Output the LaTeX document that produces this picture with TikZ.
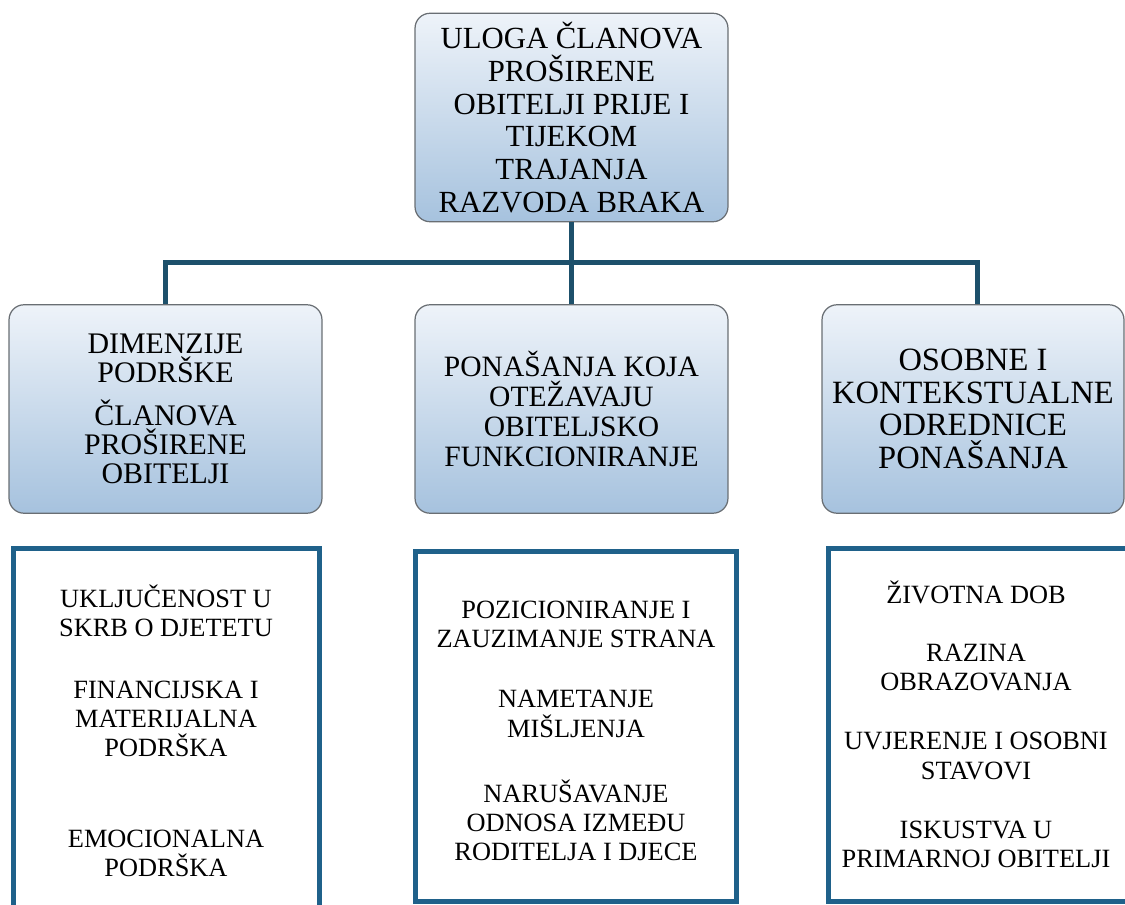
\documentclass[tikz,border=0pt]{standalone}
\usepackage{fontspec}
\setmainfont{Liberation Serif}
\usetikzlibrary{positioning}

\definecolor{linkblue}{RGB}{29,80,107}
\definecolor{listblue}{RGB}{31,97,138}
\definecolor{boxtop}{RGB}{238,243,249}
\definecolor{boxbot}{RGB}{166,194,222}
\definecolor{boxedge}{RGB}{105,110,115}

\begin{document}
\begin{tikzpicture}[
                x = 0.02cm, % one unit = one pixel of the page
                y = -0.02cm, % y runs downwards
                semithick % line style
            ]

            \tikzstyle{topic}=[
            draw = boxedge,
            line width = 0.7pt,
            rounded corners = 0.3cm,
            top color = boxtop,
            bottom color = boxbot,
            align = center,
            inner sep = 0pt,
            minimum width = 6.26cm,
            minimum height = 4.17cm
            ]
            \tikzstyle{toptext}=[font = \fontsize{17.5}{18.7}\selectfont]
            \tikzstyle{dimtext}=[font = \fontsize{17}{16.5}\selectfont]
            \tikzstyle{pontext}=[font = \fontsize{16.8}{17}\selectfont]
            \tikzstyle{osotext}=[font = \fontsize{18.5}{18.6}\selectfont]
            \tikzstyle{listbox}=[
            draw = listblue,
            line width = 0.1cm,
            inner sep = 0pt
            ]
            \tikzstyle{item}=[
            align = center,
            inner sep = 0pt,
            font = \fontsize{15}{16.6}\selectfont
            ]
            \tikzstyle{link}=[draw = linkblue, line width = 0.1cm]

            \useasboundingbox (0,0) rectangle (1125,905);
            \clip (0,0) rectangle (1125,905);

            % top of the tree
            \node[topic, toptext] (root) at (571.5,117.5)
                {ULOGA ČLANOVA\\PROŠIRENE\\OBITELJI PRIJE I\\TIJEKOM\\TRAJANJA\\RAZVODA BRAKA};

            % second row
            \node[topic, dimtext] (dim) at (165.5,409)
                {DIMENZIJE\\PODRŠKE\\[0.28cm]ČLANOVA\\PROŠIRENE\\OBITELJI};
            \node[topic, pontext] (pon) at (571.5,409)
                {PONAŠANJA KOJA\\OTEŽAVAJU\\OBITELJSKO\\FUNKCIONIRANJE};
            \node[topic, osotext, minimum width = 6.04cm] (oso) at (973,409)
                {OSOBNE I\\KONTEKSTUALNE\\ODREDNICE\\PONAŠANJA};

            \coordinate (busL) at (166,263);
            \coordinate (busR) at (977,263);

            \path[link] (root.south) -- (pon.north);
            \path[link] (dim.north) -- (dim.north |- busL) -- (busR) -- (busR |- oso.north);

            % lists under the boxes
            \node[listbox, minimum width = 6.14cm, minimum height = 7.6cm] (list1) at (166.5,738) {};
            \node[listbox, minimum width = 6.44cm, minimum height = 7.02cm] (list2) at (576,726.5) {};
            \node[listbox, minimum width = 6.24cm, minimum height = 7.08cm] (list3) at (984,725) {};

            \node[item] (a1) at (166,611) {UKLJUČENOST U\\SKRB O DJETETU};
            \node[item] (a2) at (166,719) {FINANCIJSKA I\\MATERIJALNA\\PODRŠKA};
            \node[item] (a3) at (166,853) {EMOCIONALNA\\PODRŠKA};

            \node[item] (b1) at (576,624) {POZICIONIRANJE I\\ZAUZIMANJE STRANA};
            \node[item] (b2) at (576,714) {NAMETANJE\\MIŠLJENJA};
            \node[item] (b3) at (576,820) {NARUŠAVANJE\\ODNOSA IZMEĐU\\RODITELJA I DJECE};

            \node[item] (c1) at (976,592) {ŽIVOTNA DOB};
            \node[item] (c2) at (976,667.5) {RAZINA\\OBRAZOVANJA};
            \node[item] (c3) at (976,756) {UVJERENJE I OSOBNI\\STAVOVI};
            \node[item] (c4) at (976,844) {ISKUSTVA U\\PRIMARNOJ OBITELJI};
        \end{tikzpicture}
\end{document}
